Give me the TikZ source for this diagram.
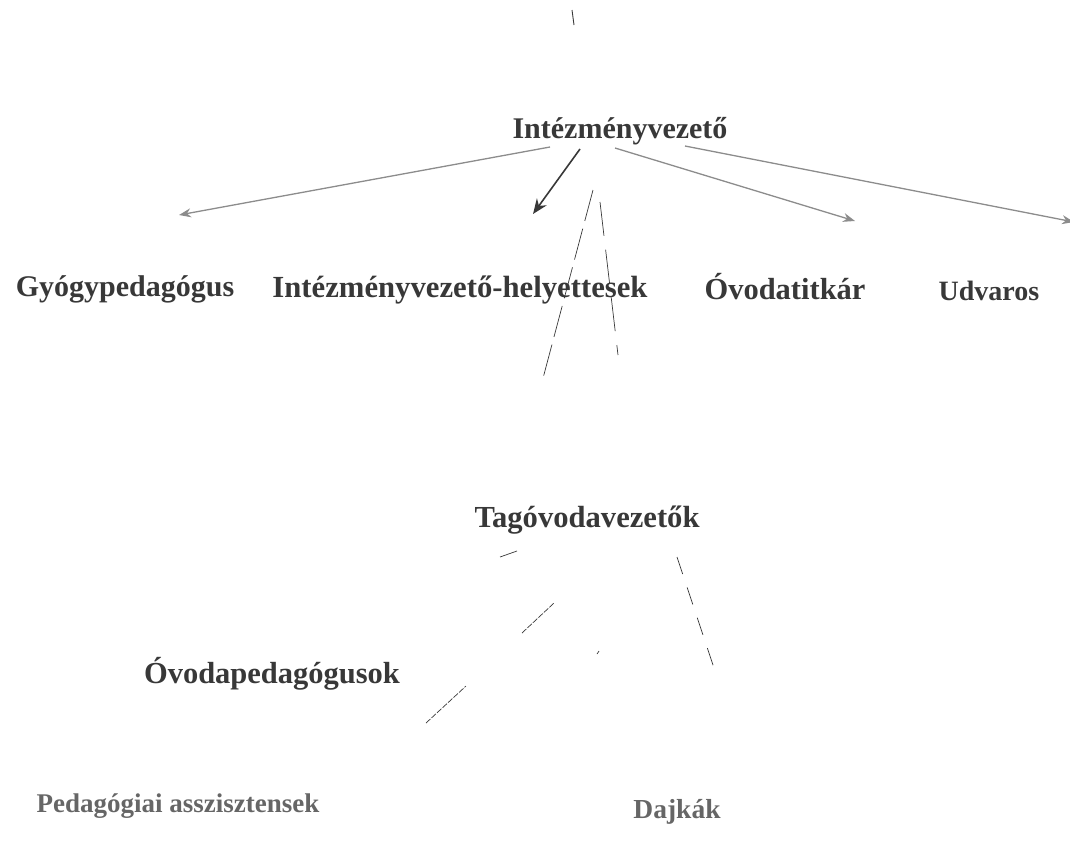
\documentclass[tikz,border=0pt]{standalone}
\usepackage{fontspec}
\setmainfont{Liberation Serif}
\usepackage{xcolor}
\usepackage{tikz}
\usetikzlibrary{calc,arrows.meta}

\definecolor{inkdark}{HTML}{383838}
\definecolor{inkgray}{HTML}{666666}
\definecolor{linegray}{HTML}{8C8C8C}

\begin{document}
\begin{tikzpicture}[x=1pt,y=-1pt,
  lbl/.style={font=\fontsize{#1}{#1}\selectfont\bfseries, text=inkdark, inner sep=0pt, anchor=base},
  pale/.style={text=inkgray},
  arrowline/.style={-{Stealth[length=12pt,width=9pt]}, draw=linegray, line width=1.3pt},
  darkarrow/.style={-{Stealth[length=15pt,width=12pt]}, draw=inkdark, line width=1.6pt},
  dashline/.style={draw=inkdark, line width=0.7pt}]

\useasboundingbox (0,0) rectangle (1070,849);

\node[lbl=30] (iv) at (620,138) {Intézményvezető};
\node[lbl=30] (gy) at (125,296) {Gyógypedagógus};
\node[lbl=30.7] (ivh) at (460,297) {Intézményvezető-helyettesek};
\node[lbl=30.5] (ot) at (785,299) {Óvodatitkár};
\node[lbl=28] (ud) at (989,300) {Udvaros};
\node[lbl=30.6] (tv) at (587,527) {Tagóvodavezetők};
\node[lbl=30.5] (op) at (272,683) {Óvodapedagógusok};
\node[lbl=27,pale] (pa) at (178,812) {Pedagógiai asszisztensek};
\node[lbl=27.5,pale] (dk) at (677,818) {Dajkák};

\coordinate (a1) at (550,147);
\coordinate (a2) at (580,149);
\coordinate (a3) at (615,148);
\coordinate (a4) at (685,146);
\coordinate (gyt) at (179,215);
\coordinate (ivht) at (533,214);
\coordinate (ott) at (855,221);
\coordinate (udt) at (1074,222);

\draw[arrowline] (a1) -- (gyt);
\draw[darkarrow] (a2) -- (ivht);
\draw[arrowline] (a3) -- (ott);
\draw[arrowline] (a4) -- (udt);

% faint dashed lines
\coordinate (t1) at (572,10);
\coordinate (t2) at (574,25);
\draw[dashline, line width=0.9pt] (t1) -- (t2);

\coordinate (d1) at (593,190);
\coordinate (d2) at (542,382);
\coordinate (d3) at (600,202);
\coordinate (d4) at (618,355);
\draw[dashline, dash pattern=on 32pt off 8pt] (d1) -- (d2);
\draw[dashline, dash pattern=on 34pt off 14pt] (d3) -- (d4);

\coordinate (e1) at (500,557);
\coordinate (e2) at (517,551);
\coordinate (e3) at (522,633);
\coordinate (e4) at (554,603);
\coordinate (e5) at (597,654);
\coordinate (e6) at (599,651);
\coordinate (e7) at (426,723);
\coordinate (e8) at (466,686);
\coordinate (e9) at (677,557);
\coordinate (e10) at (717,677);
\draw[dashline] (e1) -- (e2);
\draw[dashline, dash pattern=on 6pt off 1.5pt] (e3) -- (e4);
\draw[dashline] (e5) -- (e6);
\draw[dashline, dash pattern=on 6pt off 1.5pt] (e7) -- (e8);
\draw[dashline, dash pattern=on 18pt off 14pt] (e9) -- (e10);

\end{tikzpicture}
\end{document}
